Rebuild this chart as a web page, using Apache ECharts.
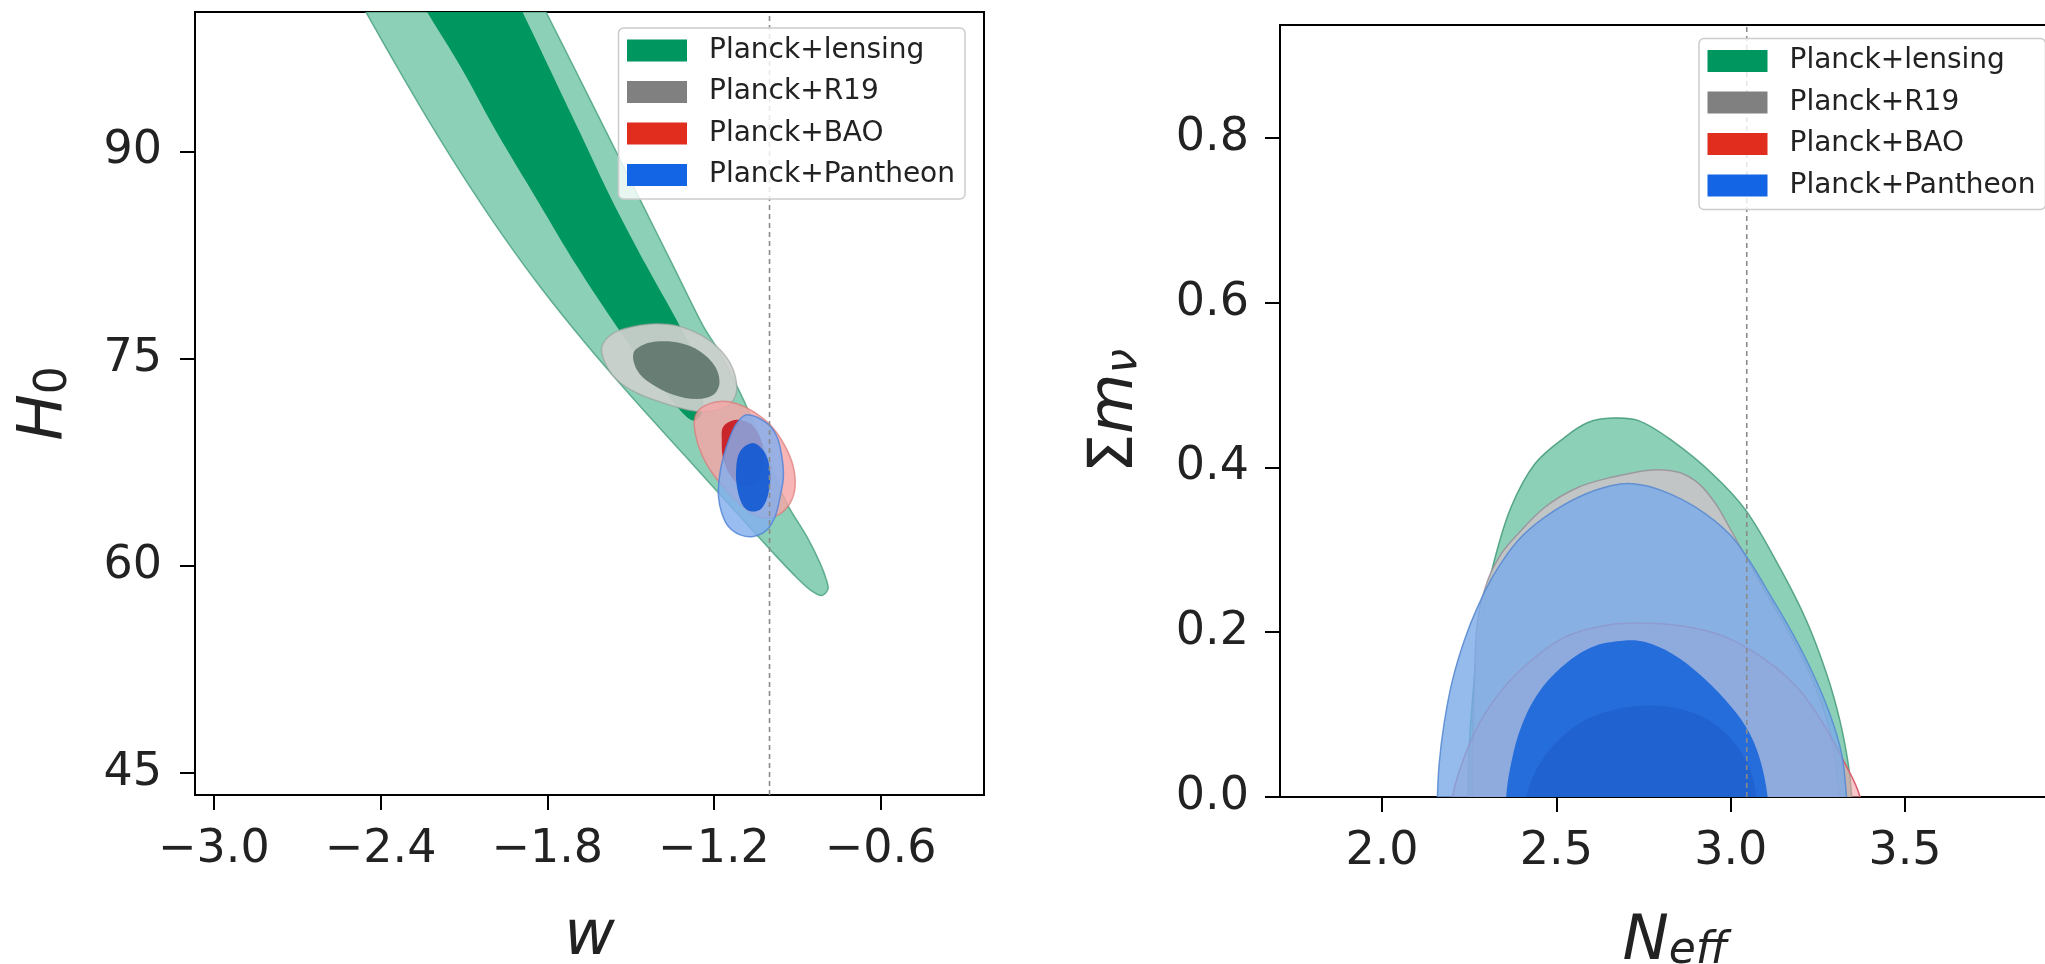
<!DOCTYPE html>
<html>
<head>
<meta charset="UTF-8">
<title>w - H0 and Neff - sum m_nu</title>
<script src="https://cdn.jsdelivr.net/npm/echarts@6.0.0/dist/echarts.min.js"></script>
<style>
  html, body { margin: 0; padding: 0; background: #fff; }
  #chart { width: 2045px; height: 964px; }
</style>
</head>
<body>
<div id="chart"></div>
<script>
// ---- axes / ticks ----
var wRange = [-3.068, -0.228];
var h0Range = [43.4, 100.1];
var neffRange = [1.7075, 3.973];
var mnuRange = [0, 0.937];
var wTicks = [-3.0, -2.4, -1.8, -1.2, -0.6];
var h0Ticks = [45, 60, 75, 90];
var neffTicks = [2.0, 2.5, 3.0, 3.5];
var mnuTicks = [0.0, 0.2, 0.4, 0.6, 0.8];
var legendNames = ['Planck+lensing', 'Planck+R19', 'Planck+BAO', 'Planck+Pantheon'];
var wFiducial = -1;
var neffFiducial = 3.046;

// ---- left panel: contours in (w, H0) ----
var lensing95_wH = [[-2.478, 101], [-2.450, 100], [-2.337, 96], [-2.220, 92], [-2.096, 88], [-1.963, 84],
  [-1.818, 80], [-1.658, 76], [-1.486, 72], [-1.306, 68], [-1.126, 64], [-0.990, 61], [-0.900, 59.1],
  [-0.850, 58.2], [-0.812, 57.85], [-0.790, 58.3], [-0.794, 58.9], [-0.818, 60.19], [-0.866, 62.12],
  [-0.938, 64.54], [-1.012, 68.1], [-1.082, 71.5], [-1.135, 73.71], [-1.190, 75.8], [-1.238, 77.33],
  [-1.346, 81.68], [-1.466, 86.51], [-1.586, 91.35], [-1.706, 96.17], [-1.800, 99.92], [-1.827, 101]];
var lensing68_wH = [[-2.257, 101], [-2.227, 99.92], [-2.113, 96.17], [-1.981, 91.35], [-1.837, 86.51],
  [-1.693, 81.68], [-1.550, 77.33], [-1.45, 74.5], [-1.36, 72.2], [-1.30, 70.8], [-1.27, 70.5],
  [-1.245, 71.0], [-1.24, 72.5], [-1.26, 74.8], [-1.322, 77.33], [-1.442, 81.68], [-1.568, 86.51],
  [-1.682, 91.35], [-1.796, 96.17], [-1.885, 99.92], [-1.915, 101]];
var r19_95_wH = [[-1.6035, 75.88], [-1.5617, 76.85], [-1.4897, 77.33], [-1.4056, 77.53], [-1.3217, 77.33],
  [-1.2378, 76.61], [-1.1778, 75.64], [-1.1357, 74.43], [-1.1177, 72.99], [-1.1298, 72.02],
  [-1.1658, 71.42], [-1.2256, 71.17], [-1.2976, 71.30], [-1.3818, 71.78], [-1.4775, 72.51],
  [-1.5495, 73.47], [-1.5916, 74.68]];
var r19_68_wH = [[-1.4897, 75.41], [-1.4537, 76.01], [-1.3937, 76.25], [-1.3217, 76.13], [-1.2497, 75.52],
  [-1.1957, 74.43], [-1.1802, 73.23], [-1.2018, 72.38], [-1.2616, 72.07], [-1.3458, 72.38],
  [-1.4297, 73.23], [-1.4775, 74.20]];
var bao95_wH = [[-1.2378, 71.54], [-1.1778, 71.90], [-1.1177, 71.73], [-1.0579, 71.17], [-0.9978, 70.21],
  [-0.9500, 68.88], [-0.9162, 67.31], [-0.9078, 65.74], [-0.9258, 64.54], [-0.9680, 63.69],
  [-1.0220, 63.45], [-1.0817, 64.05], [-1.1418, 65.14], [-1.2018, 66.59], [-1.2436, 68.04],
  [-1.2677, 69.61], [-1.2677, 70.81]];
var bao68_wH = [[-1.1658, 70.09], [-1.1177, 70.57], [-1.0579, 70.09], [-1.0220, 68.40], [-1.0338, 66.46],
  [-1.0817, 65.74], [-1.1298, 66.22], [-1.1658, 67.67], [-1.1718, 69.12]];
var pantheon95_wH = [[-1.0817, 70.93], [-1.0097, 70.33], [-0.9737, 69.36], [-0.9557, 67.91], [-0.9500, 66.46],
  [-0.9618, 65.01], [-0.9798, 63.57], [-1.0097, 62.60], [-1.0579, 62.12], [-1.1058, 62.24],
  [-1.1479, 62.84], [-1.1717, 63.81], [-1.1838, 65.01], [-1.1802, 66.46], [-1.1658, 67.91],
  [-1.1418, 69.36], [-1.1177, 70.33]];
var pantheon68_wH = [[-1.0579, 68.88], [-1.0158, 68.16], [-0.9978, 66.71], [-1.0038, 65.26], [-1.0277, 64.17],
  [-1.0637, 63.93], [-1.0937, 64.29], [-1.1154, 65.50], [-1.1202, 66.95], [-1.1058, 68.28]];

// ---- right panel: contours in (Neff, sum m_nu) ----
var lensing95_nm = [[2.247, -0.03], [2.247, 0], [2.250, 0.0606], [2.260, 0.1213], [2.274, 0.1819],
  [2.293, 0.2304], [2.322, 0.287], [2.370, 0.3517], [2.438, 0.4042], [2.524, 0.4366], [2.592, 0.4548],
  [2.659, 0.46], [2.736, 0.4568], [2.832, 0.4325], [2.948, 0.3921], [3.044, 0.3476], [3.140, 0.2789],
  [3.217, 0.2142], [3.275, 0.1496], [3.313, 0.093], [3.337, 0.0404], [3.347, 0], [3.347, -0.03]];
var r19_95_nm = [[2.258, -0.03], [2.258, 0], [2.260, 0.0606], [2.265, 0.1415], [2.274, 0.2142],
  [2.303, 0.2628], [2.342, 0.2951], [2.390, 0.3193], [2.467, 0.3517], [2.563, 0.3759], [2.659, 0.3881],
  [2.774, 0.3970], [2.851, 0.3941], [2.909, 0.380], [2.957, 0.3557], [2.996, 0.3274], [3.044, 0.2910],
  [3.092, 0.2547], [3.169, 0.1981], [3.236, 0.1415], [3.284, 0.0808], [3.313, 0], [3.313, -0.03]];
var r19_68_nm = [[2.414, -0.03], [2.414, 0], [2.447, 0.0364], [2.505, 0.0687], [2.582, 0.093],
  [2.678, 0.1071], [2.774, 0.1112], [2.851, 0.1071], [2.938, 0.093], [3.005, 0.0687], [3.053, 0.0364],
  [3.073, 0], [3.073, -0.03]];
var bao95_nm = [[2.202, -0.03], [2.202, 0], [2.236, 0.0485], [2.284, 0.093], [2.351, 0.1334],
  [2.428, 0.1657], [2.524, 0.194], [2.640, 0.2082], [2.755, 0.211], [2.871, 0.207], [2.986, 0.194],
  [3.102, 0.1657], [3.198, 0.1294], [3.265, 0.0889], [3.323, 0.0445], [3.371, 0], [3.371, -0.03]];
var pantheon95_nm = [[2.159, -0.03], [2.159, 0], [2.164, 0.0404], [2.178, 0.0889], [2.202, 0.1415],
  [2.236, 0.19], [2.274, 0.2304], [2.322, 0.2708], [2.390, 0.3113], [2.467, 0.3396], [2.563, 0.3638],
  [2.659, 0.378], [2.726, 0.380], [2.803, 0.3719], [2.899, 0.3517], [2.996, 0.3193], [3.053, 0.287],
  [3.111, 0.2466], [3.178, 0.198], [3.236, 0.1496], [3.284, 0.101], [3.318, 0.0526], [3.332, 0],
  [3.332, -0.03]];
var pantheon68_nm = [[2.356, -0.03], [2.356, 0], [2.370, 0.0404], [2.399, 0.0849], [2.447, 0.1253],
  [2.515, 0.1577], [2.601, 0.1819], [2.697, 0.19], [2.755, 0.188], [2.832, 0.1738], [2.909, 0.1496],
  [2.986, 0.1172], [3.044, 0.0849], [3.082, 0.0485], [3.106, 0], [3.106, -0.03]];

var FONT = 'DejaVu Sans';
var TXT = '#222';

function fmt1(v) {
  return (v < 0 ? '\u2212' : '') + Math.abs(v).toFixed(1);
}

// one custom series per data set, each layer drawn as a filled polygon
function contourSeries(name, gi, legendColor, layers) {
  return {
    type: 'custom',
    name: name,
    coordinateSystem: 'cartesian2d',
    xAxisIndex: gi,
    yAxisIndex: gi,
    clip: true,
    silent: true,
    itemStyle: { color: legendColor },
    data: layers.map(function (l, i) { return [i]; }),
    renderItem: function (params, api) {
      var layer = layers[params.dataIndex];
      var pts = layer.pts.map(function (p) { return api.coord(p); });
      return {
        type: 'polygon',
        shape: { points: pts, smooth: 0.35 },
        style: {
          fill: layer.fill,
          stroke: layer.stroke || null,
          lineWidth: layer.stroke ? 1.5 : 0
        }
      };
    }
  };
}

function refLine(gi, x, yr) {
  return {
    type: 'line', xAxisIndex: gi, yAxisIndex: gi, silent: true, z: 3,
    symbol: 'none', data: [[x, yr[0]], [x, yr[1]]],
    lineStyle: { color: '#8a8a8a', width: 1.6, type: [5, 4] }
  };
}

function xAxisOpt(gi, range, ticks, nameText, rich, gap) {
  return {
    gridIndex: gi, type: 'value', min: range[0], max: range[1],
    axisLine: { show: true, onZero: false, lineStyle: { color: '#000', width: 2 } },
    axisTick: { show: true, length: 15, customValues: ticks, lineStyle: { color: '#000', width: 2 } },
    axisLabel: { customValues: ticks, formatter: fmt1, fontSize: 46, fontFamily: FONT, color: TXT, margin: 32 },
    splitLine: { show: false },
    name: nameText, nameLocation: 'middle', nameGap: gap,
    nameTextStyle: { rich: rich }
  };
}

function yAxisOpt(gi, range, ticks, fmt, nameText, rich, gap, margin) {
  return {
    gridIndex: gi, type: 'value', min: range[0], max: range[1],
    axisLine: { show: true, onZero: false, lineStyle: { color: '#000', width: 2 } },
    axisTick: { show: true, length: 15, customValues: ticks, lineStyle: { color: '#000', width: 2 } },
    axisLabel: { customValues: ticks, formatter: fmt, fontSize: 46, fontFamily: FONT, color: TXT, margin: margin },
    splitLine: { show: false },
    name: nameText, nameLocation: 'middle', nameGap: gap, nameRotate: 90,
    nameTextStyle: { rich: rich }
  };
}

var mainTok = { fontSize: 62, fontStyle: 'italic', fontFamily: FONT, color: TXT, lineHeight: 62 };
var uprightTok = { fontSize: 62, fontFamily: FONT, color: TXT, lineHeight: 62 };
var subTok = { fontSize: 44, fontFamily: FONT, color: TXT, lineHeight: 30, verticalAlign: 'bottom' };
var subItTok = { fontSize: 44, fontStyle: 'italic', fontFamily: FONT, color: TXT, lineHeight: 30, verticalAlign: 'bottom' };

function legendOpt(left, top) {
  return {
    data: legendNames, orient: 'vertical', left: left, top: top,
    icon: 'rect', itemWidth: 60, itemHeight: 22, itemGap: 13.5,
    selectedMode: false,
    backgroundColor: 'rgba(255,255,255,0.8)', borderColor: '#cccccc', borderWidth: 1.5, borderRadius: 5,
    padding: [8.5, 10, 10, 8.5],
    textStyle: { fontSize: 28, fontFamily: FONT, color: TXT, padding: [0, 0, 0, 17] }
  };
}

var chart = echarts.init(document.getElementById('chart'));

var option = {
  animation: false,
  backgroundColor: '#ffffff',
  grid: [
    { left: 195, top: 12, width: 789, height: 783, outerBoundsMode: 'none', containLabel: false,
      show: true, borderColor: '#000', borderWidth: 2, backgroundColor: 'transparent' },
    { left: 1280, top: 25, width: 790, height: 772, outerBoundsMode: 'none', containLabel: false,
      show: true, borderColor: '#000', borderWidth: 2, backgroundColor: 'transparent' }
  ],
  xAxis: [
    xAxisOpt(0, wRange, wTicks, '{a|w}', { a: mainTok }, 112),
    xAxisOpt(1, neffRange, neffTicks, '{a|N}{b|eff}', { a: mainTok, b: subItTok }, 115)
  ],
  yAxis: [
    yAxisOpt(0, h0Range, h0Ticks, function (v) { return String(v); }, '{a|H}{b|0}', { a: mainTok, b: subTok }, 118, 33),
    yAxisOpt(1, mnuRange, mnuTicks, fmt1, '{s|\u03a3}{a|m}{b|\u03bd}', { s: uprightTok, a: mainTok, b: subItTok }, 133, 31)
  ],
  legend: [legendOpt(618.5, 28), legendOpt(1699, 38.5)],
  series: [
    contourSeries('Planck+lensing', 0, '#00965f', [
      { pts: lensing95_wH, fill: 'rgba(120,200,170,0.85)', stroke: 'rgba(70,160,125,0.8)' },
      { pts: lensing68_wH, fill: '#00965f' }
    ]),
    contourSeries('Planck+R19', 0, '#808080', [
      { pts: r19_95_wH, fill: 'rgba(205,207,205,0.92)', stroke: 'rgba(150,160,155,0.6)' },
      { pts: r19_68_wH, fill: 'rgba(100,122,112,0.96)' }
    ]),
    contourSeries('Planck+BAO', 0, '#e02d1e', [
      { pts: bao95_wH, fill: 'rgba(245,165,165,0.82)', stroke: 'rgba(220,120,120,0.7)' },
      { pts: bao68_wH, fill: 'rgba(200,30,35,0.95)' }
    ]),
    contourSeries('Planck+Pantheon', 0, '#1464e6', [
      { pts: pantheon95_wH, fill: 'rgba(130,175,238,0.82)', stroke: 'rgba(80,130,215,0.8)' },
      { pts: pantheon68_wH, fill: 'rgba(20,90,210,0.92)' }
    ]),
    contourSeries('Planck+lensing', 1, '#00965f', [
      { pts: lensing95_nm, fill: 'rgba(120,200,170,0.85)', stroke: 'rgba(60,150,115,0.8)' }
    ]),
    contourSeries('Planck+R19', 1, '#808080', [
      { pts: r19_95_nm, fill: 'rgba(200,195,200,0.9)', stroke: 'rgba(150,140,150,0.8)' }
    ]),
    contourSeries('Planck+BAO', 1, '#e02d1e', [
      { pts: bao95_nm, fill: 'rgba(240,160,165,0.6)', stroke: 'rgba(215,95,110,1)' }
    ]),
    contourSeries('Planck+Pantheon', 1, '#1464e6', [
      { pts: pantheon95_nm, fill: 'rgba(122,170,233,0.8)', stroke: 'rgba(90,140,210,0.9)' },
      { pts: pantheon68_nm, fill: 'rgba(22,100,218,0.88)' }
    ]),
    // R19 68% region shows through the Pantheon fill as a darker patch
    contourSeries('Planck+R19', 1, '#808080', [
      { pts: r19_68_nm, fill: 'rgba(20,60,170,0.22)' }
    ]),
    refLine(0, wFiducial, h0Range),
    refLine(1, neffFiducial, mnuRange)
  ]
};

chart.setOption(option);
</script>
</body>
</html>
